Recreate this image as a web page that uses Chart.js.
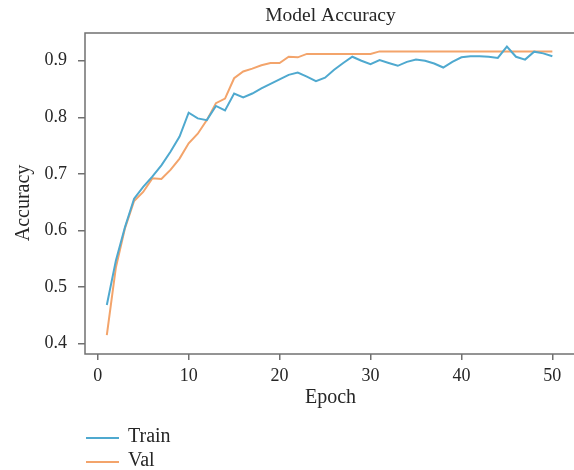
<!DOCTYPE html>
<html>
<head>
<meta charset="utf-8">
<script src="https://cdn.jsdelivr.net/npm/chart.js@4.4.1/dist/chart.umd.min.js"></script>
<style>
  html, body { margin: 0; padding: 0; background: #ffffff; overflow: hidden; }
  #wrap { width: 574px; height: 470px; overflow: hidden; position: relative; }
  #c { display: block; }
</style>
</head>
<body>
<div id="wrap"><canvas id="c" width="580" height="470" style="width:580px;height:470px"></canvas></div>
<script>
const chartTitle = 'Model Accuracy';
const xLabel = 'Epoch';
const yLabel = 'Accuracy';
const seriesNames = ['Train', 'Val'];
const epochs = [1,2,3,4,5,6,7,8,9,10,11,12,13,14,15,16,17,18,19,20,21,22,23,24,25,26,27,28,29,30,31,32,33,34,35,36,37,38,39,40,41,42,43,44,45,46,47,48,49,50];
const trainAcc = [0.468,0.547,0.606,0.656,0.677,0.695,0.715,0.739,0.766,0.808,0.798,0.795,0.820,0.812,0.842,0.835,0.842,0.851,0.859,0.867,0.875,0.879,0.872,0.864,0.870,0.884,0.896,0.907,0.900,0.894,0.901,0.896,0.891,0.898,0.902,0.900,0.895,0.888,0.898,0.906,0.908,0.908,0.907,0.905,0.925,0.907,0.902,0.916,0.913,0.908];
const valAcc = [0.415,0.535,0.604,0.652,0.668,0.692,0.691,0.707,0.727,0.754,0.771,0.795,0.825,0.833,0.869,0.881,0.886,0.892,0.896,0.896,0.907,0.906,0.912,0.912,0.912,0.912,0.912,0.912,0.912,0.912,0.9165,0.9165,0.9165,0.9165,0.9165,0.9165,0.9165,0.9165,0.9165,0.9165,0.9165,0.9165,0.9165,0.9165,0.9165,0.9165,0.9165,0.9165,0.9165,0.9165];
const xTicks = [0,10,20,30,40,50];
const yTicks = [0.4,0.5,0.6,0.7,0.8,0.9];

const colors = ['#4fa9cf', '#f3a46b'];
const FONT = "'Liberation Serif', 'DejaVu Serif', serif";
const TEXT = '#262626';
const FRAME = '#707070';

const decor = {
  id: 'decor',
  afterDraw(chart) {
    const ctx = chart.ctx;
    const a = chart.chartArea;
    ctx.save();
    // frame
    ctx.strokeStyle = FRAME;
    ctx.lineWidth = 1.5;
    ctx.strokeRect(a.left, a.top, a.right - a.left, a.bottom - a.top);
    // title
    ctx.fillStyle = TEXT;
    ctx.font = "19.5px " + FONT;
    ctx.textAlign = 'center';
    ctx.textBaseline = 'middle';
    ctx.fillText(chartTitle, (a.left + a.right) / 2, 16);
    // y label
    ctx.font = "20px " + FONT;
    ctx.save();
    ctx.translate(24, 203);
    ctx.rotate(-Math.PI / 2);
    ctx.fillText(yLabel, 0, 0);
    ctx.restore();
    // legend
    const ys = [438, 462];
    chart.data.datasets.forEach((ds, i) => {
      ctx.strokeStyle = ds.borderColor;
      ctx.lineWidth = 2;
      ctx.beginPath();
      ctx.moveTo(86, ys[i]);
      ctx.lineTo(119, ys[i]);
      ctx.stroke();
      ctx.fillStyle = TEXT;
      ctx.textAlign = 'left';
      ctx.fillText(ds.label, 128, ys[i] - 1);
    });
    ctx.restore();
  }
};

new Chart(document.getElementById('c'), {
  type: 'line',
  data: {
    datasets: [
      { label: seriesNames[0], data: epochs.map((e, i) => ({ x: e, y: trainAcc[i] })), borderColor: colors[0], backgroundColor: colors[0], borderWidth: 2, pointRadius: 0, tension: 0, fill: false },
      { label: seriesNames[1], data: epochs.map((e, i) => ({ x: e, y: valAcc[i] })), borderColor: colors[1], backgroundColor: colors[1], borderWidth: 2, pointRadius: 0, tension: 0, fill: false }
    ]
  },
  options: {
    responsive: false,
    animation: false,
    events: [],
    layout: { padding: { left: 0, top: 33, right: 4, bottom: 60 } },
    plugins: { legend: { display: false }, title: { display: false }, tooltip: { enabled: false } },
    scales: {
      x: {
        type: 'linear',
        min: -1.4, max: 52.6,
        afterBuildTicks: s => { s.ticks = xTicks.map(v => ({ value: v })); },
        afterFit: s => { s.height = 56; },
        grid: { display: true, drawOnChartArea: false, drawTicks: true, tickLength: 6, color: FRAME, lineWidth: 1.5 },
        border: { display: false },
        ticks: { color: TEXT, font: { family: FONT, size: 18 }, padding: 5, maxRotation: 0, autoSkip: false, callback: v => String(v) },
        title: { display: true, text: xLabel, color: TEXT, font: { family: FONT, size: 20 }, padding: { top: 0, bottom: 0 } }
      },
      y: {
        type: 'linear',
        min: 0.3815, max: 0.949,
        afterBuildTicks: s => { s.ticks = yTicks.map(v => ({ value: v })); },
        afterFit: s => { s.width = 85; },
        grid: { display: true, drawOnChartArea: false, drawTicks: true, tickLength: 7, color: FRAME, lineWidth: 1.5 },
        border: { display: false },
        ticks: { color: TEXT, font: { family: FONT, size: 18 }, padding: 11, autoSkip: false, callback: v => v.toFixed(1) },
        title: { display: false }
      }
    }
  },
  plugins: [decor]
});
</script>
</body>
</html>
